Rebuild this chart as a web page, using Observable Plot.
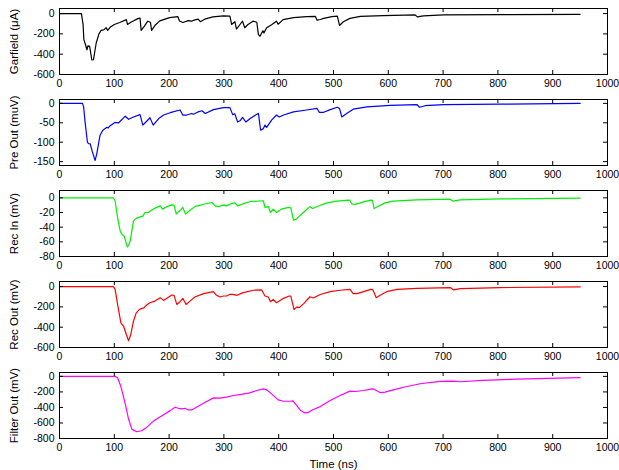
<!DOCTYPE html>
<html><head><meta charset="utf-8">
<script src="https://cdn.jsdelivr.net/npm/d3@7"></script>
<script src="https://cdn.jsdelivr.net/npm/@observablehq/plot@0.6"></script>
<style>
body{margin:0;background:#fff;}
#chart{width:619px;font-family:"Liberation Sans",Arial,Helvetica,sans-serif;}
#chart svg{display:block;}
g[aria-label="y-axis label"] text, g[aria-label="x-axis label"] text{font-size:11.5px;}
g[aria-label="y-axis label"], g[aria-label="x-axis label"]{font-size:11.5px;}
</style>
</head><body><div id="chart"></div>
<script>
// x ticks (ns)
const xTicks = [0,100,200,300,400,500,600,700,800,900,1000];

// series: [time (ns), value]
const garfield = [[0,0],[40,0],[43,-107],[44.5,-257],[47.5,-307],[50,-357],[52,-317],[55,-323],[59,-457],[62,-455],[67,-290],[72,-200],[76,-165],[81,-160],[85,-138],[88,-165],[93,-132],[100,-107],[110,-88],[122,-60],[124,-107],[131,-83],[143,-50],[147,-45],[149,-165],[155,-123],[161,-75],[166,-85],[168,-165],[174,-118],[183,-72],[201,-40],[216,-30],[219,-73],[225,-88],[235,-70],[241,-75],[247,-62],[253,-55],[257,-80],[265,-55],[280,-33],[299,-23],[311,-26],[314,-107],[320,-80],[323,-152],[329,-110],[334,-75],[338,-140],[344,-108],[353,-75],[360,-85],[363,-207],[366,-223],[371,-170],[373,-190],[378,-140],[387,-110],[396,-75],[399,-105],[408,-60],[427,-40],[451,-30],[467,-28],[470,-65],[476,-58],[482,-47],[497,-30],[507,-25],[511,-117],[518,-80],[530,-47],[549,-27],[591,-20],[649,-13],[653,-33],[664,-23],[701,-13],[804,-10],[950,-7]];

const preOut = [[0,0],[42,0],[44,-9],[47,-52],[51,-100],[53,-104],[56,-104],[60,-125],[65,-147],[68,-130],[74,-82],[79,-69],[86,-62],[89,-63],[92,-58],[101,-49],[108,-50],[120,-33],[126,-41],[135,-35],[147,-29],[152,-56],[159,-46],[165,-37],[171,-56],[181,-39],[190,-30],[202,-24],[220,-17],[225,-30],[232,-30],[241,-26],[244,-28],[253,-22],[260,-19],[266,-26],[281,-16],[299,-11],[311,-11],[316,-29],[320,-27],[325,-48],[330,-44],[334,-36],[340,-48],[348,-39],[360,-28],[363,-26],[367,-69],[372,-65],[375,-56],[378,-62],[387,-43],[396,-30],[401,-35],[409,-30],[427,-22],[451,-17],[470,-13],[474,-23],[482,-23],[494,-16],[507,-10],[511,-13],[515,-35],[524,-26],[536,-15],[561,-9],[603,-5],[652,-3],[657,-10],[667,-6],[701,-3],[804,-2],[950,0]];

const recIn = [[0,0],[98,0],[101.5,-4],[106,-27],[111,-46],[114,-50],[118,-52],[121,-60],[124,-67],[126,-65],[129,-59],[135,-31.5],[140,-28],[147,-26],[152,-25],[156,-20],[162,-20],[168,-17],[177,-13],[184,-11],[188,-15.5],[196,-12],[205,-9.6],[209,-10],[213,-22],[219,-18],[225,-13],[230,-22],[238,-17],[247,-12],[263,-8.7],[278,-6.4],[284,-11],[290,-12],[300,-9.6],[305,-11],[314,-7.8],[320,-6.9],[325,-11],[336,-7.8],[348,-5],[372,-4],[375,-13],[381,-12],[385,-20],[390,-15.5],[396,-20],[405,-15.5],[418,-13],[422,-13.5],[427,-30.6],[432,-29],[436,-26],[442,-22],[451,-16],[457,-12],[462,-14.5],[475,-10.5],[488,-6.9],[506,-4.6],[527,-3.2],[530,-3.5],[533,-8.2],[540,-9],[555,-5.5],[568,-3.2],[571,-3.5],[574,-14.6],[582,-11.4],[594,-6.9],[609,-4.6],[652,-2.7],[713,-1.8],[718,-4.6],[731,-2.7],[804,-1.4],[950,-0.5]];

const recOut = [[0,0],[98.5,0],[101.5,-27],[106,-176],[112,-358],[117,-391],[121,-457],[126,-534],[130,-474],[135,-341],[140,-259],[146,-225],[150,-215],[154,-209],[159,-182],[165,-159],[174,-143],[184,-109],[190,-136],[196,-116],[205,-83],[209,-86],[214,-176],[220,-149],[225,-116],[231,-176],[238,-143],[247,-103],[263,-70],[281,-50],[286,-83],[293,-103],[299,-93],[305,-93],[311,-76],[316,-76],[324,-86],[335,-60],[354,-36],[369,-33],[375,-93],[381,-103],[385,-149],[390,-126],[396,-159],[409,-116],[419,-93],[422,-93],[428,-225],[433,-202],[438,-205],[446,-165],[457,-100],[463,-112],[476,-78],[494,-50],[512,-36],[530,-27],[536,-70],[543,-70],[555,-50],[568,-27],[572,-33],[578,-109],[585,-86],[597,-50],[616,-27],[652,-17],[713,-10],[719,-33],[731,-20],[804,-10],[950,-3]];

const filterOut = [[0,0],[101.5,0],[106,-17],[112,-130],[120,-355],[126,-549],[132,-679],[141,-713],[150,-700],[159,-657],[171,-579],[184,-519],[190,-493],[202,-441],[211,-398],[217,-411],[223,-419],[229,-411],[235,-432],[241,-432],[250,-398],[266,-333],[281,-277],[293,-281],[305,-268],[317,-246],[329,-234],[345,-216],[360,-182],[372,-160],[378,-173],[387,-225],[399,-303],[409,-320],[421,-320],[426,-316],[433,-376],[440,-440],[448,-471],[453,-468],[462,-430],[476,-389],[494,-311],[512,-246],[530,-190],[540,-195],[555,-182],[570,-160],[574,-165],[585,-208],[594,-203],[609,-173],[634,-130],[658,-95],[694,-65],[719,-61],[731,-69],[773,-52],[834,-35],[950,-17]];

const labels = ["Garfield (\u03bcA)","Pre Out (muV)","Rec In (mV)","Rec Out (mV)","Filter Out (mV)"];
const yDomains = [[-600,50],[-160,10],[-80,10],[-600,50],[-800,50]];
const yTicks = [[-600,-400,-200,0],[-150,-100,-50,0],[-80,-60,-40,-20,0],[-600,-400,-200,0],[-800,-600,-400,-200,0]];
const colors = ["#000000","#0000ff","#00ee00","#ff0000","#ff00ff"];
const series = [garfield, preOut, recIn, recOut, filterOut];

const W = 619, ML = 59, MR = 12, MT = 8, IH = 66, TL = 4;
const IW = W - ML - MR;
const root = document.getElementById("chart");

series.forEach((s, i) => {
  const last = i === series.length - 1;
  const data = s.map(([t, v]) => ({t, v}));
  const mb = last ? 32 : 17;
  const chart = Plot.plot({
    width: W,
    height: MT + IH + mb,
    marginLeft: ML, marginRight: MR, marginTop: MT, marginBottom: mb,
    style: {fontFamily: '"Liberation Sans",Arial,Helvetica,sans-serif', fontSize: "10.5px", color: "#000", background: "#fff", overflow: "visible"},
    x: {domain: [0, 1000]},
    y: {domain: yDomains[i]},
    marks: [
      Plot.line(data, {x: "t", y: "v", stroke: colors[i], strokeWidth: 1.2}),
      Plot.ruleX(xTicks, {insetTop: IH - TL}),
      Plot.ruleX(xTicks, {insetBottom: IH - TL}),
      Plot.ruleY(yTicks[i], {insetRight: IW - TL}),
      Plot.ruleY(yTicks[i], {insetLeft: IW - TL}),
      Plot.frame({stroke: "#000"}),
      Plot.axisX({ticks: xTicks, tickSize: 0, tickPadding: 5, tickFormat: d => String(d),
        label: last ? "Time (ns)" : null, labelAnchor: "center", labelArrow: "none", labelOffset: 29}),
      Plot.axisY({ticks: yTicks[i], tickSize: 0, tickPadding: 5, tickFormat: d => String(d),
        label: labels[i], labelAnchor: "center", labelArrow: "none", labelOffset: 50})
    ]
  });
  root.appendChild(chart);
});
</script>
</body></html>
